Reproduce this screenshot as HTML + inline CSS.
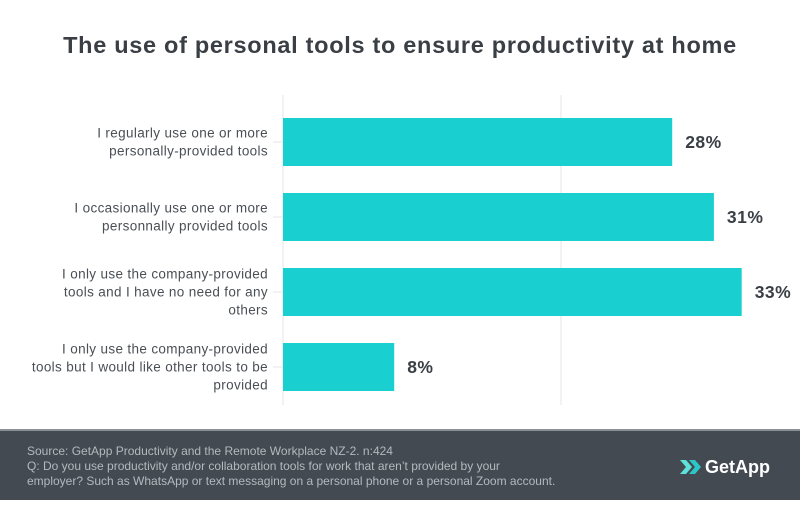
<!DOCTYPE html>
<html><head><meta charset="utf-8"><style>
body{margin:0;width:800px;height:500px;overflow:hidden;background:#fff;font-family:"Liberation Sans",sans-serif}
</style></head><body>
<svg id="chart" width="800" height="500">
<text x="400" y="53" text-anchor="middle" font-size="23.5" font-weight="bold" letter-spacing="0.7" fill="#3a3f45">The use of personal tools to ensure productivity at home</text>
<g id="grid"></g>
<g id="bars"></g>
<rect x="0" y="430" width="800" height="70" fill="#434a52"/>
<rect x="0" y="429" width="800" height="2" fill="#8a9096"/>
<g font-size="12" fill="#b4b9be">
<text x="27" y="455">Source: GetApp Productivity and the Remote Workplace NZ-2. n:424</text>
<text x="27" y="470">Q: Do you use productivity and/or collaboration tools for work that aren’t provided by your</text>
<text x="27" y="485">employer? Such as WhatsApp or text messaging on a personal phone or a personal Zoom account.</text>
</g>
<g>
<polygon points="680,460 686,460 692,467 686,474 680,474 686,467" fill="#5fe0d8"/>
<polygon points="689,460 695,460 701,467 695,474 689,474 695,467" fill="#2bc7c7"/>
<text x="705" y="473" font-size="18" font-weight="bold" fill="#fff">GetApp</text>
</g>
</svg>
<script>
const categories=[["I regularly use one or more","personally-provided tools"],["I occasionally use one or more","personnally provided tools"],["I only use the company-provided","tools and I have no need for any","others"],["I only use the company-provided","tools but I would like other tools to be","provided"]];
const values=[28,31,33,8];
const gridTicks=[0,20];
const NS="http://www.w3.org/2000/svg";
const x0=283,pxPer=13.9;
function xScale(v){return x0+v*pxPer;}
function yBand(i){return 118+i*75;}
const bh=48;
function el(t,a,p){const e=document.createElementNS(NS,t);for(const k in a)e.setAttribute(k,a[k]);p.appendChild(e);return e;}
const grid=document.getElementById('grid'),bars=document.getElementById('bars');
gridTicks.forEach(t=>{
const l=el('line',{x1:xScale(t),x2:xScale(t),y1:95,y2:405,stroke:'#e4e6e8','stroke-width':1},grid);


});
values.forEach((v,i)=>{
const y=yBand(i);
const r=el('rect',{x:x0,y:y,width:xScale(v)-x0,height:bh,fill:'#19cfcf'},bars);


const tk=el('line',{x1:273,x2:283,y1:y+bh/2,y2:y+bh/2,stroke:'#e4e6e8'},bars);


const lab=el('text',{x:xScale(v)+13,y:y+bh/2+6,'font-size':17.5,'font-weight':'bold','letter-spacing':0.5,fill:'#3a3f45'},bars);
lab.textContent=v+'%';


const lines=categories[i];
const startY=y+bh/2-(lines.length-1)*9+4.5;
const t=el('text',{'text-anchor':'end','font-size':13.5,'letter-spacing':0.35,fill:'#4a4f55'},bars);


lines.forEach((s,j)=>{const ts=el('tspan',{x:268,y:startY+j*18},t);ts.textContent=s;});
});
</script>
</body></html>
